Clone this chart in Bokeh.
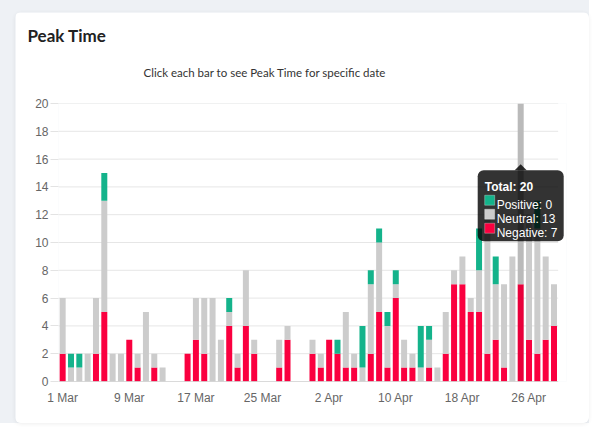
import numpy as np
import pandas as pd
from bokeh.plotting import figure
from bokeh.models import (ColumnDataSource, Range1d, FixedTicker, Label, Title,
                          BoxAnnotation, PolyAnnotation, Spacer)
from bokeh.layouts import column, row
from bokeh.embed import file_html
from bokeh.resources import INLINE

# ---------------- data ----------------
dates = pd.date_range("2024-03-01", periods=60)          # 1 Mar .. 29 Apr
day_labels = [f"{d.day} {d.strftime('%b')}" for d in dates]

negative = [2, 0, 0, 0, 2, 5, 0, 0, 3, 1, 0, 1, 0, 0, 0, 2, 3, 2, 0, 0,
            4, 1, 4, 2, 0, 0, 1, 3, 0, 0, 2, 1, 3, 2, 1, 1, 0, 2, 5, 1,
            6, 1, 1, 0, 1, 0, 2, 7, 7, 5, 5, 2, 3, 1, 0, 7, 3, 2, 3, 4]
neutral = [4, 1, 1, 2, 4, 8, 2, 2, 0, 1, 5, 1, 1, 0, 0, 0, 3, 4, 6, 3,
           1, 1, 4, 1, 0, 0, 2, 1, 0, 0, 1, 1, 0, 0, 4, 1, 1, 5, 5, 3,
           1, 2, 1, 1, 2, 1, 3, 1, 2, 1, 3, 10, 4, 6, 9, 13, 9, 9, 6, 3]
positive = [0, 1, 1, 0, 0, 2, 0, 0, 0, 0, 0, 0, 0, 0, 0, 0, 0, 0, 0, 0,
            1, 0, 0, 0, 0, 0, 0, 0, 0, 0, 0, 0, 0, 1, 0, 0, 3, 1, 1, 1,
            1, 0, 0, 3, 1, 0, 0, 0, 0, 0, 3, 0, 2, 0, 0, 0, 0, 2, 0, 0]

tick_labels = ["1 Mar", "9 Mar", "17 Mar", "25 Mar", "2 Apr", "10 Apr", "18 Apr", "26 Apr"]
y_ticks = [0, 2, 4, 6, 8, 10, 12, 14, 16, 18, 20]

title_text = "Peak Time"
subtitle_text = "Click each bar to see Peak Time for specific date"

# ---------------- styles ----------------
RED, GRAY, GREEN = "#fa003f", "#cccccc", "#14b38b"
RED_H, GRAY_H = "#e8003a", "#bababa"

x = np.arange(len(day_labels))
neg = np.array(negative)
neu = np.array(neutral)
pos = np.array(positive)
total = neg + neu + pos
peak = int(np.argmax(total))

src = ColumnDataSource(dict(
    x=x,
    neg_top=neg,
    neu_top=neg + neu,
    pos_top=neg + neu + pos,
    neg_col=[RED_H if i == peak else RED for i in x],
    neu_col=[GRAY_H if i == peak else GRAY for i in x],
))

W, H = 574, 411
BL, BR, BT, BB = 43, 23, 91, 42
FW, FH = W - BL - BR, H - BT - BB
X0 = -0.5
XLAST = len(day_labels) - 0.5
X1 = XLAST + 1.0          # one spare slot so the tooltip can overflow
Y0, Y1 = 0, 20
ppx = FW / (X1 - X0)
ppy = FH / (Y1 - Y0)

p = figure(width=W, height=H, output_backend="svg", toolbar_location=None,
           x_range=Range1d(X0, X1), y_range=Range1d(Y0, Y1),
           min_border_left=BL, min_border_right=BR, min_border_top=BT,
           min_border_bottom=BB, background_fill_color="white",
           border_fill_color="white", outline_line_color=None)
p.styles = {"border-radius": "6px", "overflow": "hidden",
            "box-shadow": "0 1px 4px rgba(0,0,0,0.07)"}

# titles (above panels stack outward from the frame)
p.title.text = title_text
p.title.align = "left"
p.title.offset = 12 - BL
p.title.text_font = "Lato"
p.title.text_font_style = "bold"
p.title.text_font_size = "17px"
p.title.text_color = "#222222"
p.title.standoff = 16
p.add_layout(Title(text=" ", text_font_size="1px", standoff=11), "above")
p.add_layout(Title(text=subtitle_text, align="left", offset=128 - BL,
                   text_font="Lato", text_font_style="normal",
                   text_font_size="11.5px", text_color="#333333", standoff=21),
             "above")

# grid lines drawn only over the data slots
p.xgrid.grid_line_color = None
p.ygrid.grid_line_color = None
p.segment(x0=X0, x1=XLAST, y0=y_ticks, y1=y_ticks, line_color="#e6e6e6",
          line_width=1)

bw = 0.72
p.vbar(x="x", bottom=0, top="neg_top", width=bw, source=src,
       fill_color="neg_col", line_color=None)
p.vbar(x="x", bottom="neg_top", top="neu_top", width=bw, source=src,
       fill_color="neu_col", line_color=None)
p.vbar(x="x", bottom="neu_top", top="pos_top", width=bw, source=src,
       fill_color=GREEN, line_color=None)
p.segment(x0=[X0], x1=[XLAST], y0=[Y0], y1=[Y0], line_color="#c4c4c4",
          line_width=1)

# axes
tick_pos = [day_labels.index(t) for t in tick_labels]
p.xaxis.ticker = FixedTicker(ticks=tick_pos)
p.xaxis.major_label_overrides = {tp: t for tp, t in zip(tick_pos, tick_labels)}
p.xaxis.major_tick_out = 0
p.xaxis.major_tick_in = 0
p.xaxis.minor_tick_out = 0
p.xaxis.minor_tick_in = 0
p.xaxis.axis_line_color = None
p.xaxis.major_label_standoff = 9
p.yaxis.ticker = FixedTicker(ticks=y_ticks)
p.yaxis.axis_line_color = None
p.yaxis.major_tick_out = 8
p.yaxis.major_tick_in = 0
p.yaxis.minor_tick_out = 0
p.yaxis.minor_tick_in = 0
p.yaxis.major_tick_line_color = "#e3e3e3"
p.yaxis.major_label_standoff = 2
for ax in (p.xaxis, p.yaxis):
    ax.major_label_text_font = "Liberation Sans"
    ax.major_label_text_font_size = "12px"
    ax.major_label_text_color = "#666666"

# static tooltip for the peak bar
tip_top = 15.2
bx0 = peak - 43 / ppx
bx1 = peak + 43 / ppx
by0 = tip_top - 71 / ppy
p.add_layout(BoxAnnotation(left=bx0, right=bx1, bottom=by0, top=tip_top,
                           fill_color="black", fill_alpha=0.8, line_color=None,
                           border_radius=6, level="overlay"))
p.add_layout(PolyAnnotation(xs=[peak - 6 / ppx, peak, peak + 6 / ppx],
                            ys=[tip_top, tip_top + 6 / ppy, tip_top],
                            fill_color="black", fill_alpha=0.8, line_color=None,
                            level="overlay"))


def px_x(dx):
    return bx0 + dx / ppx


def px_y(dy):
    return tip_top - dy / ppy


p.add_layout(Label(x=px_x(7), y=px_y(17), text=f"Total: {total[peak]}",
                   text_font="Liberation Sans", text_font_style="bold",
                   text_font_size="12px", text_color="white",
                   text_baseline="alphabetic", level="overlay"))
rows = [("Positive", pos[peak], GREEN), ("Neutral", neu[peak], GRAY),
        ("Negative", neg[peak], RED)]
for k, (name, val, col) in enumerate(rows):
    top_px = 25 + 14 * k
    p.add_layout(BoxAnnotation(left=px_x(7), right=px_x(17), top=px_y(top_px),
                               bottom=px_y(top_px + 10), fill_color=col,
                               fill_alpha=1, line_color="white", line_width=1,
                               level="overlay"))
    p.add_layout(Label(x=px_x(19), y=px_y(top_px + 9.5), text=f"{name}: {val}",
                       text_font="Liberation Sans", text_font_size="12px",
                       text_color="white", text_baseline="alphabetic",
                       level="overlay"))

layout = column(Spacer(height=12), row(Spacer(width=15), p),
                styles={"background-color": "#eef1f5"})

open("out.html", "w").write(file_html(layout, INLINE))
